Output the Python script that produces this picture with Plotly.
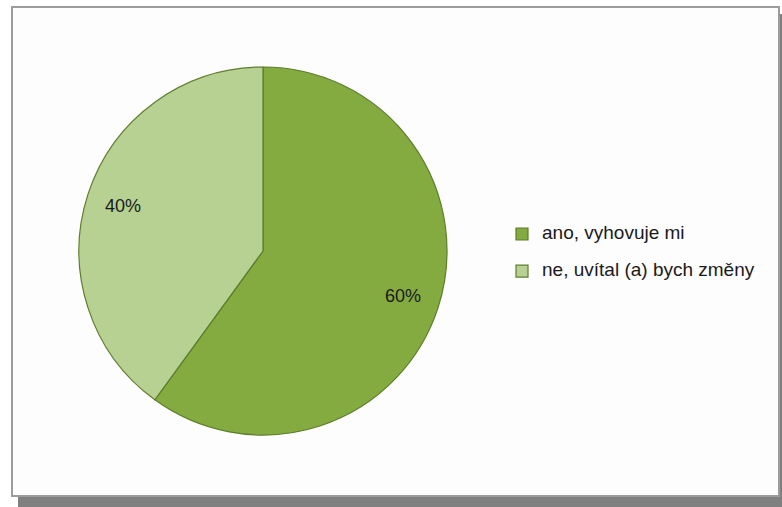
import math
import plotly.graph_objects as go

W, H = 782, 507

labels = ["ano, vyhovuje mi", "ne, uvítal (a) bych změny"]
values = [60, 40]
colors = ["#84AB40", "#B6D192"]

FONT = "Liberation Sans"


def px_x(x):
    return x / W


def px_y(y):
    return 1 - y / H


# pie placement (pixel box of the circle)
cx, cy, r = 263, 251, 184

fig = go.Figure()
fig.add_trace(go.Pie(
    labels=[f'<span style="font-size:19px">{t}</span><br> ' for t in labels],
    values=values,
    sort=False,
    direction="clockwise",
    rotation=0,
    marker=dict(colors=colors, line=dict(color="#5E7D2C", width=1.2)),
    textinfo="none",
    hoverinfo="label+percent",
    domain=dict(x=[px_x(cx - r), px_x(cx + r)], y=[px_y(cy + r), px_y(cy - r)]),
))

# percentage labels placed along each slice's bisector, near the rim
total = sum(values)
annotations = []
cum = 0
for v in values:
    theta = math.radians(360 * (cum + v / 2) / total)
    cum += v
    lx = cx + 0.8 * r * math.sin(theta)
    ly = cy - 0.8 * r * math.cos(theta)
    annotations.append(dict(
        x=px_x(lx), y=px_y(ly), xref="paper", yref="paper",
        xanchor="center", yanchor="middle",
        text=f"{round(100 * v / total)}%", showarrow=False,
        font=dict(family=FONT, size=18, color="#1a1a1a"),
    ))

# chart frame with a drop shadow
shapes = [
    dict(type="rect", xref="paper", yref="paper", layer="below",
         x0=px_x(18), x1=px_x(782), y0=px_y(507), y1=px_y(14),
         fillcolor="#808080", line=dict(width=0)),
    dict(type="rect", xref="paper", yref="paper", layer="below",
         x0=px_x(12), x1=px_x(779), y0=px_y(496), y1=px_y(7),
         fillcolor="#FDFDFD", line=dict(color="#9C9C9C", width=2)),
]

fig.update_layout(
    width=W, height=H,
    margin=dict(l=0, r=0, t=0, b=0),
    paper_bgcolor="white",
    plot_bgcolor="white",
    shapes=shapes,
    annotations=annotations,
    showlegend=True,
    legend=dict(
        x=px_x(502), y=px_y(219), xanchor="left", yanchor="top",
        font=dict(family=FONT, size=13.1, color="#1a1a1a"),
        valign="top",
        itemwidth=30,
        bgcolor="rgba(0,0,0,0)",
    ),
)

fig.write_html("out.html")
